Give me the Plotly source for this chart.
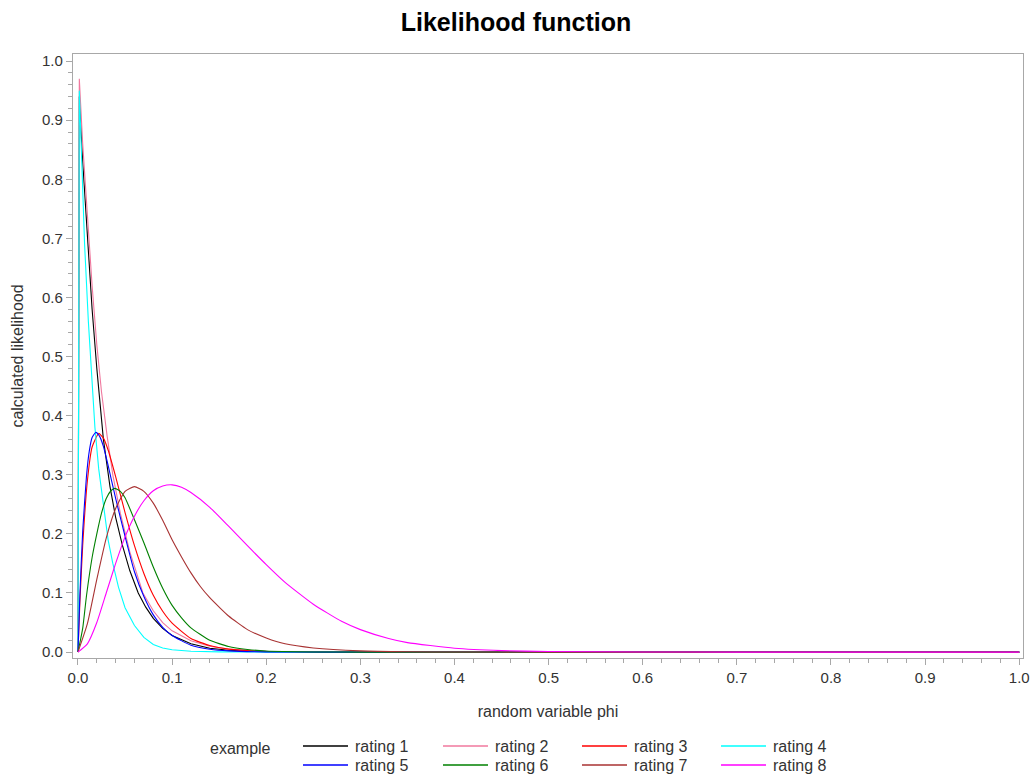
import plotly.graph_objects as go

# ---------------- data ----------------
series_names = ["rating 1", "rating 2", "rating 3", "rating 4",
                "rating 5", "rating 6", "rating 7", "rating 8"]
series_colors = ["#000000", "#F0789E", "#FF0000", "#00FFFF",
                 "#0000FF", "#008000", "#A83232", "#FF00FF"]
series_smooth = [False, False, True, False, True, True, True, True]

phi_r1 = [0, 0.0014, 0.005, 0.01, 0.015, 0.02, 0.027, 0.034, 0.04, 0.047, 0.055,
          0.064, 0.072, 0.08, 0.09, 0.1, 0.12, 0.14, 0.16, 0.2, 0.3, 1.0]
lik_r1 = [0, 0.94, 0.83, 0.70, 0.58, 0.48, 0.36, 0.28, 0.228, 0.182, 0.138,
          0.10, 0.076, 0.057, 0.04, 0.028, 0.014, 0.0065, 0.003, 0.0007, 0, 0]

phi_r2 = [0, 0.0014, 0.005, 0.01, 0.015, 0.02, 0.025, 0.031, 0.037, 0.045, 0.055,
          0.069, 0.08, 0.09, 0.1, 0.12, 0.14, 0.16, 0.2, 0.25, 0.3, 1.0]
lik_r2 = [0, 0.97, 0.86, 0.73, 0.62, 0.52, 0.44, 0.365, 0.30, 0.235, 0.17,
          0.10, 0.07, 0.05, 0.036, 0.019, 0.01, 0.005, 0.0013, 0.0002, 0, 0]

phi_r3 = [0, 0.002, 0.005, 0.01, 0.015, 0.022, 0.027, 0.032, 0.04, 0.05, 0.06,
          0.07, 0.08, 0.09, 0.1, 0.12, 0.14, 0.16, 0.2, 0.26, 0.4, 0.6, 0.8, 1.0]
lik_r3 = [0, 0.084, 0.18, 0.29, 0.347, 0.37, 0.362, 0.342, 0.297, 0.236, 0.18,
          0.133, 0.096, 0.069, 0.049, 0.023, 0.011, 0.005, 0.001, 0.0001, 0, 0, 0, 0]

phi_r4 = [0, 0.0014, 0.004, 0.007, 0.011, 0.015, 0.018, 0.022, 0.027, 0.032, 0.037,
          0.043, 0.05, 0.06, 0.07, 0.08, 0.09, 0.1, 0.12, 0.15, 0.2, 1.0]
lik_r4 = [0, 0.95, 0.83, 0.69, 0.56, 0.455, 0.38, 0.31, 0.245, 0.19, 0.15,
          0.11, 0.075, 0.045, 0.025, 0.013, 0.007, 0.004, 0.0015, 0.0003, 0, 0]

phi_r5 = [0, 0.002, 0.005, 0.009, 0.012, 0.015, 0.019, 0.023, 0.027, 0.032, 0.04,
          0.05, 0.06, 0.07, 0.08, 0.09, 0.1, 0.12, 0.14, 0.16, 0.2, 0.26, 0.4, 0.6, 0.8, 1.0]
lik_r5 = [0, 0.096, 0.204, 0.297, 0.34, 0.363, 0.372, 0.365, 0.348, 0.316, 0.26,
          0.196, 0.136, 0.094, 0.063, 0.042, 0.028, 0.0115, 0.0048, 0.002, 0.0003, 0, 0, 0, 0, 0]

phi_r6 = [0, 0.005, 0.009, 0.015, 0.02, 0.025, 0.03, 0.035, 0.039, 0.045, 0.05,
          0.06, 0.07, 0.08, 0.09, 0.1, 0.11, 0.12, 0.14, 0.16, 0.18, 0.2, 0.25, 0.3,
          0.4, 0.6, 0.8, 1.0]
lik_r6 = [0, 0.04, 0.095, 0.16, 0.2, 0.235, 0.26, 0.273, 0.277, 0.272, 0.261,
          0.224, 0.185, 0.144, 0.108, 0.079, 0.058, 0.041, 0.02, 0.0095, 0.0045, 0.0018,
          0.0002, 0, 0, 0, 0, 0]

phi_r7 = [0, 0.01, 0.02, 0.03, 0.04, 0.05, 0.06, 0.07, 0.08, 0.09, 0.1,
          0.11, 0.12, 0.13, 0.14, 0.15, 0.16, 0.18, 0.2, 0.22, 0.25, 0.3, 0.35,
          0.4, 0.5, 0.6, 0.8, 1.0]
lik_r7 = [0, 0.048, 0.123, 0.193, 0.243, 0.272, 0.28, 0.272, 0.252, 0.223, 0.19,
          0.161, 0.134, 0.111, 0.092, 0.076, 0.061, 0.038, 0.024, 0.014, 0.007, 0.002, 0.0005,
          0.0001, 0, 0, 0, 0]

phi_r8 = [0, 0.01, 0.02, 0.03, 0.04, 0.05, 0.06, 0.07, 0.08, 0.09, 0.1,
          0.11, 0.12, 0.14, 0.16, 0.18, 0.2, 0.22, 0.25, 0.28, 0.3, 0.33,
          0.35, 0.4, 0.45, 0.5, 0.6, 0.7, 0.8, 0.9, 1.0]
lik_r8 = [0, 0.014, 0.05, 0.1, 0.15, 0.195, 0.23, 0.256, 0.273, 0.281, 0.283,
          0.279, 0.27, 0.245, 0.213, 0.18, 0.148, 0.118, 0.081, 0.052, 0.038, 0.023,
          0.016, 0.0065, 0.0025, 0.001, 0.0002, 0, 0, 0, 0]

phi_data = [phi_r1, phi_r2, phi_r3, phi_r4, phi_r5, phi_r6, phi_r7, phi_r8]
lik_data = [lik_r1, lik_r2, lik_r3, lik_r4, lik_r5, lik_r6, lik_r7, lik_r8]

x_ticks = [0.0, 0.1, 0.2, 0.3, 0.4, 0.5, 0.6, 0.7, 0.8, 0.9, 1.0]
y_ticks = [0.0, 0.1, 0.2, 0.3, 0.4, 0.5, 0.6, 0.7, 0.8, 0.9, 1.0]

# ---------------- figure ----------------
W, H = 1032, 775
ML, MR, MT, MB = 73, 9, 54, 117
PW, PH = W - ML - MR, H - MT - MB

AXIS_GRAY = "#A8A8A8"
TEXT = "#333333"
FONT = "Liberation Sans, Arial, sans-serif"

fig = go.Figure()
for name, col, smooth, xs, ys in zip(series_names, series_colors, series_smooth,
                                     phi_data, lik_data):
    line = dict(color=col, width=1.1)
    if smooth:
        line.update(shape="spline", smoothing=0.5)
    fig.add_trace(go.Scatter(x=xs, y=ys, mode="lines", name=name,
                             line=line, showlegend=False))

axis_common = dict(
    showline=True, linecolor=AXIS_GRAY, linewidth=1.3, mirror=True,
    showgrid=False, zeroline=False, automargin=False,
    ticks="outside", ticklen=6, tickwidth=1, tickcolor=AXIS_GRAY,
    tickformat=".1f", tickfont=dict(family=FONT, size=15, color=TEXT),
    minor=dict(dtick=0.02, ticks="outside", ticklen=4, tickwidth=1, tickcolor=AXIS_GRAY),
    title_font=dict(family=FONT, size=16, color=TEXT),
)

fig.update_layout(
    width=W, height=H,
    margin=dict(l=ML, r=MR, t=MT, b=MB),
    paper_bgcolor="white", plot_bgcolor="white",
    showlegend=False,
    title=dict(text="<b>Likelihood function</b>", x=0.5, xref="container",
               xanchor="center", y=1 - 22 / H, yref="container", yanchor="middle",
               font=dict(family=FONT, size=25, color="black")),
    xaxis=dict(range=[-0.0053, 1.004], tickvals=x_ticks,
               title=dict(text="random variable phi", standoff=20), **axis_common),
    yaxis=dict(range=[-0.010, 1.012], tickvals=y_ticks,
               title=dict(text="calculated likelihood", standoff=14), **axis_common),
)

# ---------------- legend (drawn below the plot) ----------------
def px_x(px):
    return (px - ML) / PW

def px_y(py):
    return (H - MB - py) / PH

fig.add_annotation(text="example", x=px_x(208), y=px_y(748), xref="paper", yref="paper",
                   xanchor="left", yanchor="middle", showarrow=False,
                   font=dict(family=FONT, size=16, color=TEXT))
col_x = [303, 443, 582, 721]
row_y = [746, 765]
for i, (name, col) in enumerate(zip(series_names, series_colors)):
    cx = col_x[i % 4]
    ry = row_y[i // 4]
    fig.add_shape(type="line", xref="paper", yref="paper",
                  x0=px_x(cx), x1=px_x(cx + 45), y0=px_y(ry), y1=px_y(ry),
                  line=dict(color=col, width=1.3))
    fig.add_annotation(text=name, x=px_x(cx + 50), y=px_y(ry), xref="paper", yref="paper",
                       xanchor="left", yanchor="middle", showarrow=False,
                       font=dict(family=FONT, size=16, color=TEXT))

fig.write_html("out.html")
